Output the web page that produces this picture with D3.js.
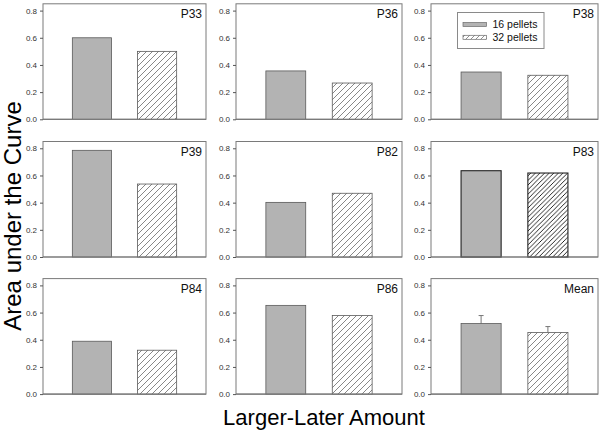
<!DOCTYPE html>
<html>
<head>
<meta charset="utf-8">
<script src="https://cdn.jsdelivr.net/npm/d3@7"></script>
<style>
  body { margin: 0; background: #fff; }
  svg { display: block; font-family: Arial, "Liberation Sans", sans-serif; }
</style>
</head>
<body>
<svg id="chart" width="600" height="431"></svg>
<script>
// ---- data ----
const panels = ["P33", "P36", "P38", "P39", "P82", "P83", "P84", "P86", "Mean"];
const series = ["16 pellets", "32 pellets"];
const vals16 = [0.60, 0.356, 0.348, 0.785, 0.402, 0.635, 0.389, 0.653, 0.519];
const vals32 = [0.50, 0.267, 0.324, 0.537, 0.469, 0.618, 0.323, 0.578, 0.453];
const err16 = [null, null, null, null, null, null, null, null, 0.059];
const err32 = [null, null, null, null, null, null, null, null, 0.044];
const yTicks = [0, 0.2, 0.4, 0.6, 0.8];
const yMax = 0.85;

const svg = d3.select("#chart");
const defs = svg.append("defs");

function hatch(id, size, color, width) {
  const p = defs.append("pattern")
    .attr("id", id).attr("patternUnits", "userSpaceOnUse")
    .attr("width", size).attr("height", size);
  p.append("rect").attr("width", size).attr("height", size).attr("fill", "#fff");
  p.append("path")
    .attr("d", `M0,${size} L${size},0 M${-size/2},${size/2} L${size/2},${-size/2} M${size/2},${size*1.5} L${size*1.5},${size/2}`)
    .attr("stroke", color).attr("stroke-width", width).attr("fill", "none");
}
hatch("hatch", 6, "#606060", 0.75);
hatch("hatchDark", 4.6, "#111", 0.9);
hatch("hatchLegend", 5, "#606060", 0.7);

const colLeft = [43, 236, 431];
const colW = [163, 166, 167];
const rowBottom = [119.3, 257, 394.1];
const plotH = 115.5;

panels.forEach((name, i) => {
  const c = i % 3, r = Math.floor(i / 3);
  const x0 = colLeft[c], w = colW[c], yb = rowBottom[r], yt = yb - plotH;
  const dark = name === "P83";

  const x = d3.scalePoint().domain(series).range([x0, x0 + w]).padding(0.75);
  const y = d3.scaleLinear().domain([0, yMax]).range([yb, yt]);
  const bw = w * 0.24;

  const g = svg.append("g");

  // frame
  g.append("rect").attr("x", x0).attr("y", yt).attr("width", w).attr("height", plotH)
    .attr("fill", "#fff").attr("stroke", "#7a7a7a").attr("stroke-width", 1);

  // y axis
  const ax = g.append("g").attr("transform", `translate(${x0},0)`)
    .call(d3.axisLeft(y).tickValues(yTicks).tickFormat(d3.format(".1f")).tickSize(3).tickPadding(3));
  ax.select(".domain").remove();
  ax.selectAll(".tick line").attr("stroke", "#555");
  ax.selectAll(".tick text").attr("fill", "#333").style("font-size", "8px")
    .style("font-family", "Arial, 'Liberation Sans', sans-serif");

  const data = [
    { s: series[0], v: vals16[i], e: err16[i] },
    { s: series[1], v: vals32[i], e: err32[i] }
  ];

  // error bars (upper only)
  data.forEach(d => {
    if (d.e != null) {
      const cx = x(d.s);
      g.append("line").attr("x1", cx).attr("x2", cx)
        .attr("y1", y(d.v)).attr("y2", y(d.v + d.e))
        .attr("stroke", "#777").attr("stroke-width", 1);
      g.append("line").attr("x1", cx - 2.5).attr("x2", cx + 2.5)
        .attr("y1", y(d.v + d.e)).attr("y2", y(d.v + d.e))
        .attr("stroke", "#777").attr("stroke-width", 1);
    }
  });

  g.selectAll("rect.bar").data(data).join("rect").attr("class", "bar")
    .attr("x", d => x(d.s) - bw / 2)
    .attr("y", d => y(d.v))
    .attr("width", bw)
    .attr("height", d => yb - y(d.v))
    .attr("fill", (d, j) => j === 0 ? "#b3b3b3" : (dark ? "url(#hatchDark)" : "url(#hatch)"))
    .attr("stroke", dark ? "#222" : "#5a5a5a")
    .attr("stroke-width", dark ? 1.1 : 0.8);

  // redraw bottom axis line over bars
  g.append("line").attr("x1", x0).attr("x2", x0 + w).attr("y1", yb).attr("y2", yb)
    .attr("stroke", "#7a7a7a").attr("stroke-width", 1.2);

  // panel label
  g.append("text").attr("x", x0 + w - 4).attr("y", yt + 14)
    .attr("text-anchor", "end").style("font-size", "12px").attr("fill", "#111")
    .text(name);
});

// legend in P38 panel
const lg = svg.append("g");
lg.append("rect").attr("x", 457.5).attr("y", 12.5).attr("width", 86.5).attr("height", 36)
  .attr("fill", "#fff").attr("stroke", "#8a8a8a").attr("stroke-width", 1);
series.forEach((s, j) => {
  const yy = 24.5 + j * 12.8;
  lg.append("rect").attr("x", 463).attr("y", yy - 2).attr("width", 23.5).attr("height", 4)
    .attr("fill", j === 0 ? "#b3b3b3" : "url(#hatchLegend)")
    .attr("stroke", "#6a6a6a").attr("stroke-width", 0.7);
  lg.append("text").attr("x", 492.5).attr("y", yy + 3.8)
    .style("font-size", "10.5px").attr("fill", "#111").text(s);
});

// axis titles
svg.append("text").attr("x", 324).attr("y", 425).attr("text-anchor", "middle")
  .style("font-size", "22px").attr("fill", "#000").text("Larger-Later Amount");
svg.append("text").attr("transform", "translate(21,216) rotate(-90)")
  .attr("text-anchor", "middle").style("font-size", "24px").attr("fill", "#000")
  .text("Area under the Curve");
</script>
</body>
</html>
